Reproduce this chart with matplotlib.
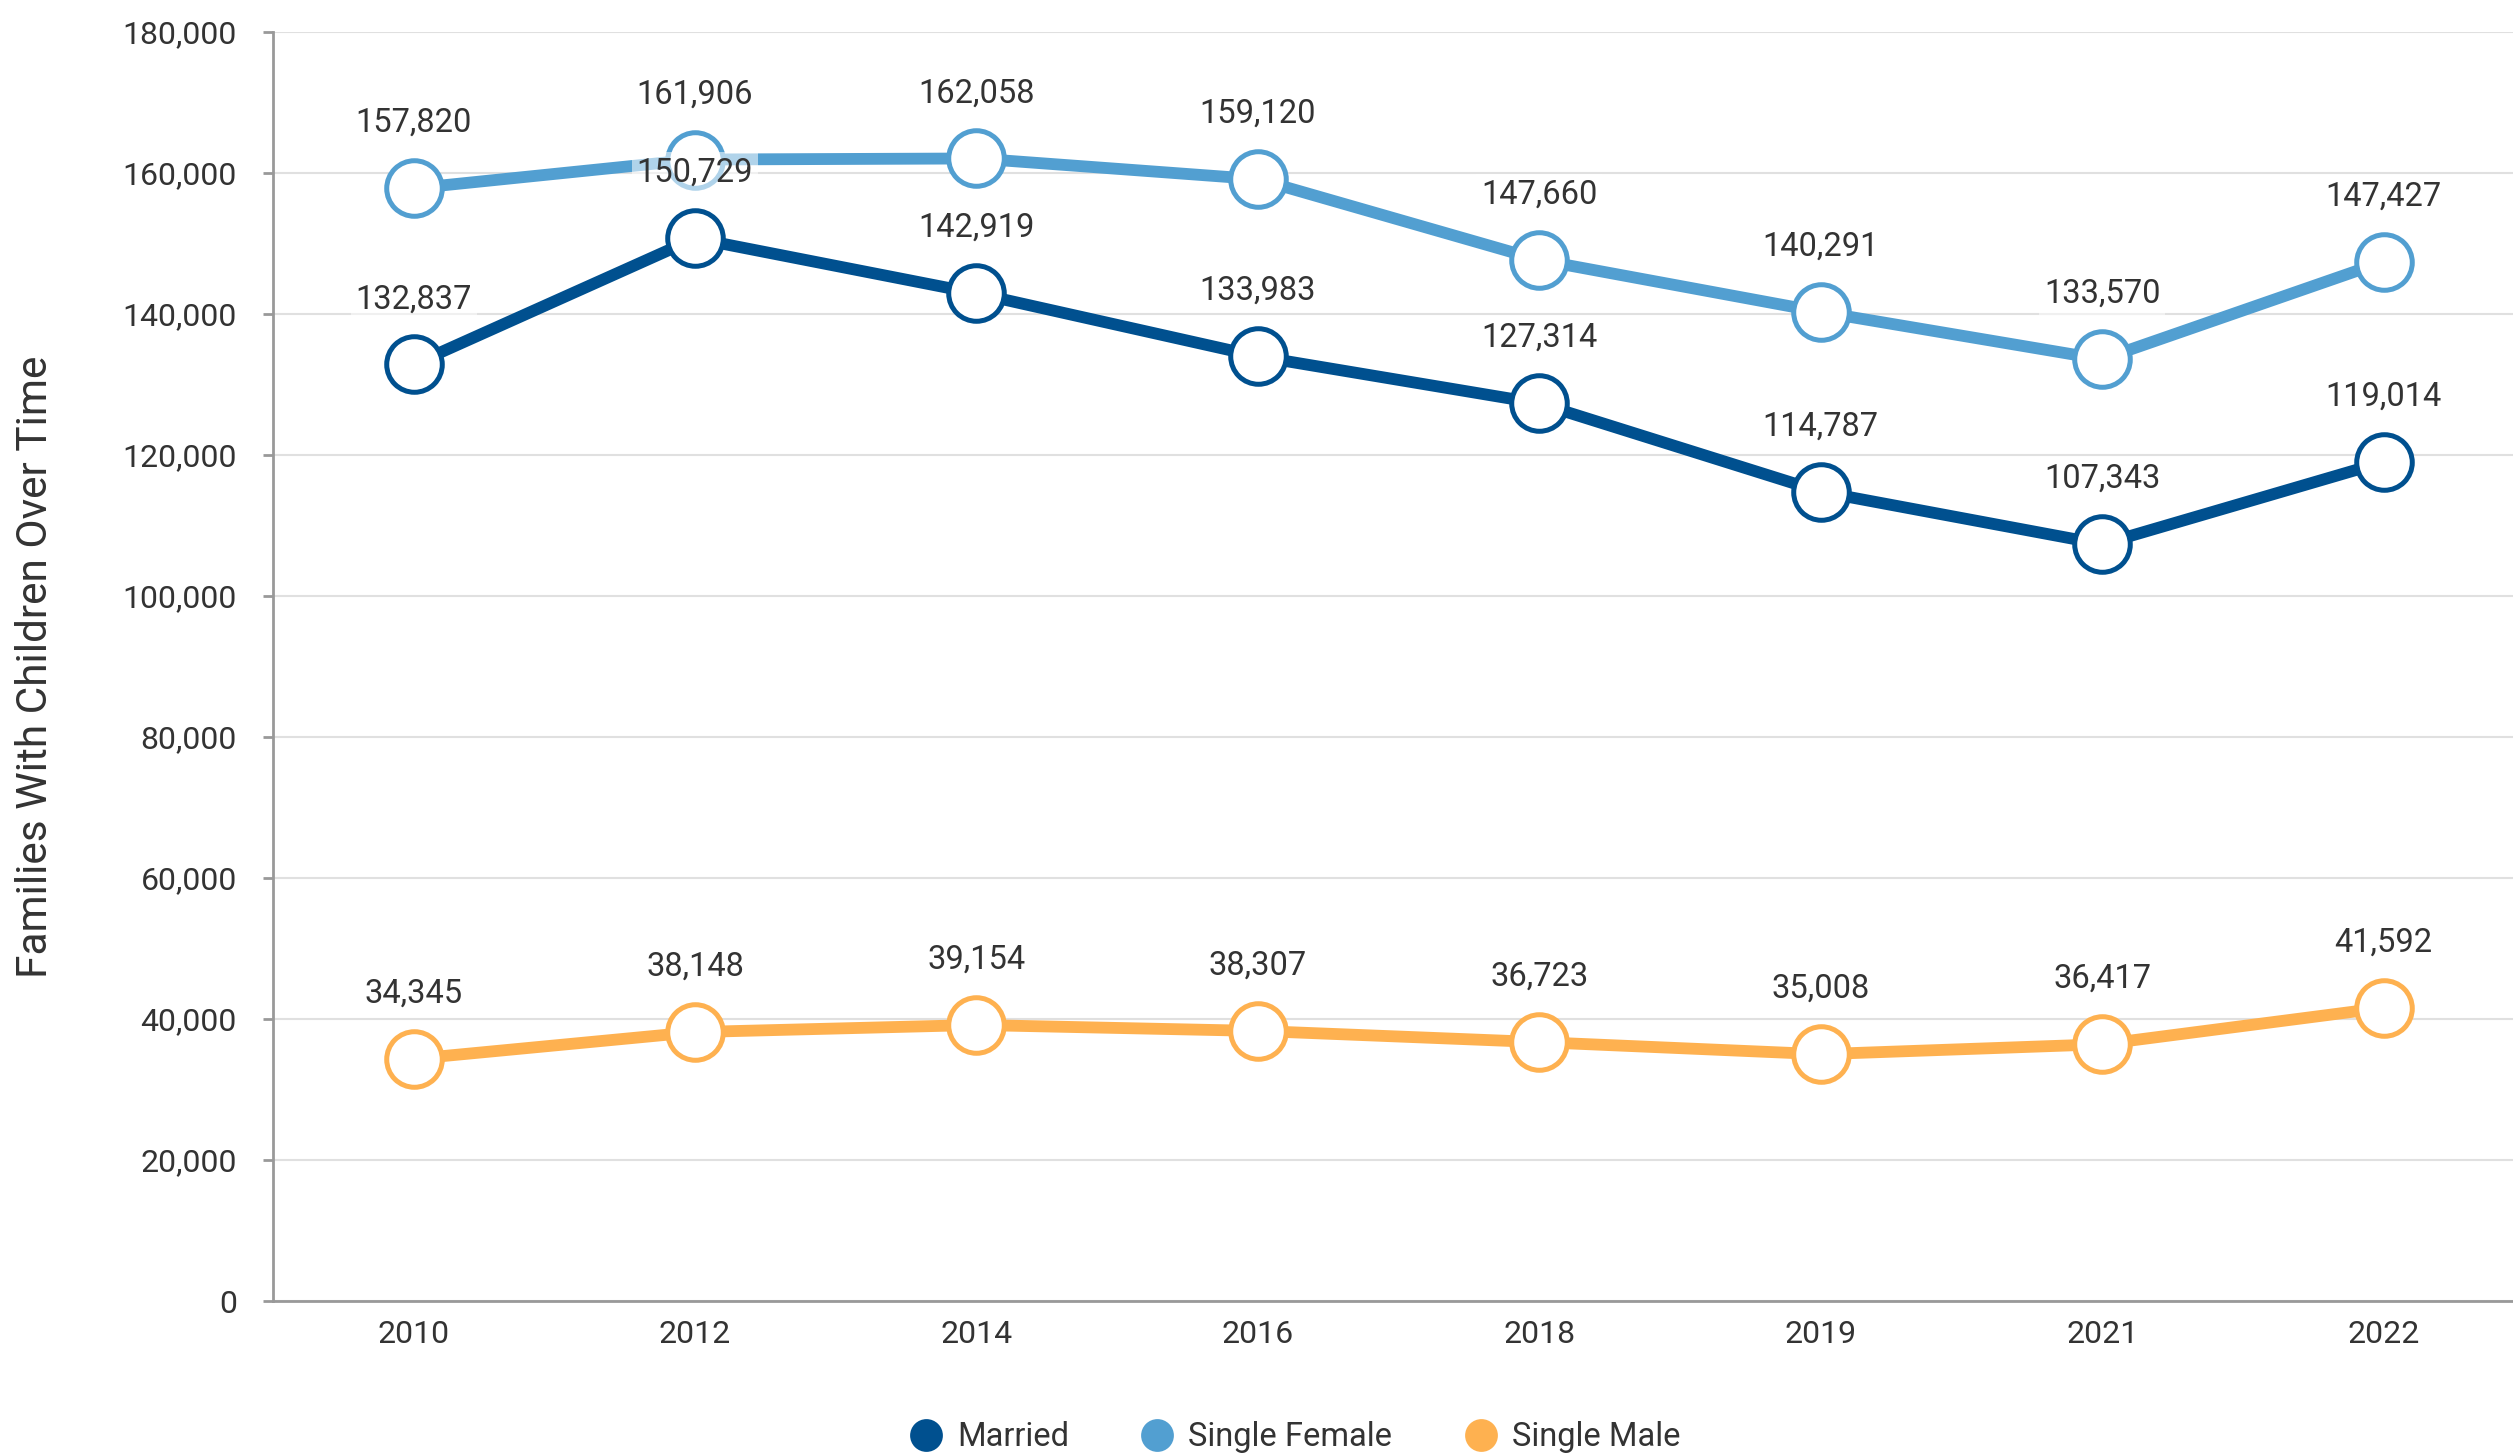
import matplotlib
matplotlib.use("Agg")
import matplotlib.pyplot as plt
from matplotlib.ticker import FuncFormatter

plt.rcParams['font.family'] = ['Roboto', 'DejaVu Sans']

years = ["2010", "2012", "2014", "2016", "2018", "2019", "2021", "2022"]
married = [132837, 150729, 142919, 133983, 127314, 114787, 107343, 119014]
single_female = [157820, 161906, 162058, 159120, 147660, 140291, 133570, 147427]
single_male = [34345, 38148, 39154, 38307, 36723, 35008, 36417, 41592]

series = [
    ("Married", married, "#00508f"),
    ("Single Female", single_female, "#529fd1"),
    ("Single Male", single_male, "#feb150"),
]

fig = plt.figure(figsize=(25.13, 14.53), dpi=100)
ax = fig.add_axes([0.1086, 0.1046, 0.8914, 0.8734])

x = list(range(len(years)))
for name, vals, col in series:
    ax.plot(x, vals, color=col, lw=8.5, marker="o", ms=40, mfc="white",
            mec=col, mew=3.6, label=name, zorder=3)

# data labels on top of everything
for name, vals, col in series:
    for xi, v in zip(x, vals):
        ax.annotate("{:,}".format(v), (xi, v), xytext=(0, 47),
                    textcoords="offset points", ha="center", va="center",
                    fontsize=23.5, color="#333333", zorder=5,
                    bbox=dict(boxstyle="square,pad=0.15", fc="white",
                              ec="none", alpha=0.55))

ax.set_xlim(-0.5, 7.46)
ax.set_ylim(0, 180000)
ax.set_xticks(x)
ax.set_xticklabels(years)
ax.set_yticks(range(0, 180001, 20000))
ax.yaxis.set_major_formatter(FuncFormatter(lambda v, p: "{:,}".format(int(v))))
ax.grid(axis="y", color="#e0e0e0", lw=1.5, zorder=0)
ax.set_axisbelow(True)

for s in ["top", "right"]:
    ax.spines[s].set_visible(False)
for s in ["left", "bottom"]:
    ax.spines[s].set_color("#999999")
    ax.spines[s].set_linewidth(2)

ax.tick_params(axis="y", length=7, width=2, color="#999999", pad=19,
               labelsize=23, labelcolor="#333333")
ax.tick_params(axis="x", length=0, pad=14, labelsize=23, labelcolor="#333333")

ax.set_ylabel("Families With Children Over Time", fontsize=30.5, color="#333333")
ax.yaxis.set_label_coords(-0.097, 0.5)

fig.legend(loc="center", bbox_to_anchor=(0.516, 0.011), ncol=3, frameon=False,
           fontsize=23.5, handlelength=0.8, columnspacing=2.3, handletextpad=0.55,
           labelcolor="#333333")
leg = fig.legends[0]
for h, (name, vals, col) in zip(leg.legend_handles, series):
    h.set_linestyle("none")
    h.set_markerfacecolor(col)
    h.set_markeredgecolor(col)
    h.set_markersize(20)

fig.savefig("out.png", dpi=100)
